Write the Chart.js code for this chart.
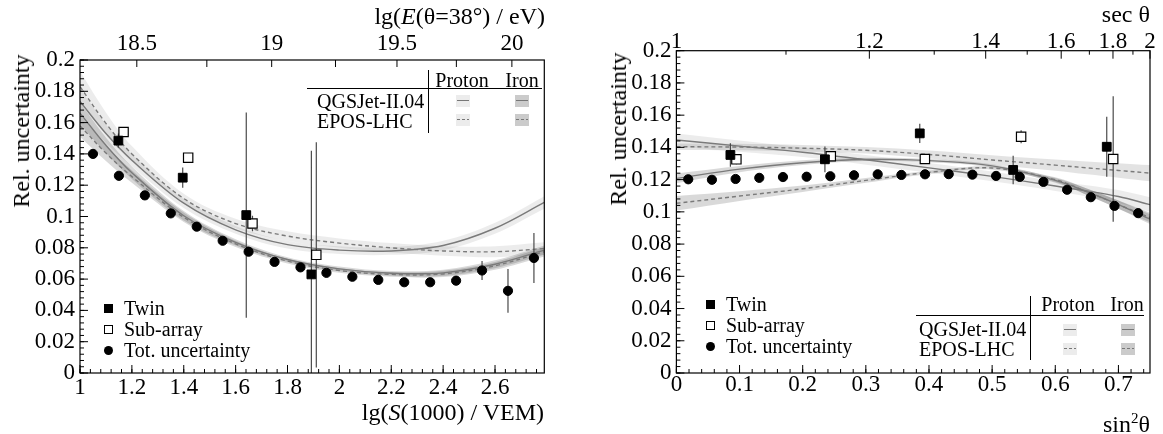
<!DOCTYPE html>
<html>
<head>
<meta charset="utf-8">
<title>Rel. uncertainty</title>
<script src="https://cdn.jsdelivr.net/npm/chart.js@4.4.1/dist/chart.umd.min.js"></script>
<style>
  html, body { margin: 0; padding: 0; background: #fff; }
  body { position: relative; width: 1163px; height: 434px; overflow: hidden;
         font-family: "Liberation Serif", "DejaVu Serif", serif; color: #000; }
  canvas { position: absolute; top: 0; }
  #cLeft { left: 0; }
  #cRight { left: 580px; }
  .t { position: absolute; white-space: nowrap; line-height: 1; }
  .ax { font-size: 24px; }
  .lg { font-size: 20px; }
  .ctr { transform: translateX(-50%); }
  .ytitle { transform: translate(-50%, -50%) rotate(-90deg); }
  .hl { position: absolute; height: 0; border-top: 1px solid #000; }
  .vl { position: absolute; width: 0; border-left: 1px solid #000; }
  .box { position: absolute; width: 14px; height: 12px; }
  .box.p { background: #ececec; }
  .box.fe { background: #cbcbcb; }
  .box i { position: absolute; left: 1px; right: 1px; top: 5px; height: 1.5px; background: #777; }
  .box.dash i { background: repeating-linear-gradient(90deg, #777 0 3px, transparent 3px 5px); }
  .mk { position: absolute; width: 9px; height: 9px; box-sizing: border-box; }
  .mk.sq { background: #000; }
  .mk.osq { border: 1px solid #000; background: #fff; }
  .mk.dot { background: #000; border-radius: 50%; }
</style>
</head>
<body>
<canvas id="cLeft" width="580" height="434" style="width:580px;height:434px"></canvas>
<canvas id="cRight" width="583" height="434" style="width:583px;height:434px"></canvas>

<!-- left panel texts -->
<div class="t ax" style="right:618px;top:4px">lg(<i>E</i>(θ=38°) / eV)</div>
<div class="t ax" style="right:619px;top:400px">lg(<i>S</i>(1000) / VEM)</div>
<div class="t ax ytitle" style="left:21px;top:131px">Rel. uncertainty</div>

<div class="mk sq" style="left:104px;top:304px"></div>
<div class="mk osq" style="left:104px;top:324.5px"></div>
<div class="mk dot" style="left:104px;top:345.5px"></div>
<div class="t lg" style="left:124px;top:298px">Twin</div>
<div class="t lg" style="left:124px;top:319px">Sub-array</div>
<div class="t lg" style="left:124px;top:340px">Tot. uncertainty</div>

<div class="hl" style="left:307px;top:88px;width:235px"></div>
<div class="vl" style="left:428px;top:70px;height:63px"></div>
<div class="t lg ctr" style="left:462px;top:70px">Proton</div>
<div class="t lg ctr" style="left:522px;top:70px">Iron</div>
<div class="t lg" style="left:317px;top:91px">QGSJet-II.04</div>
<div class="t lg" style="left:317px;top:110.5px">EPOS-LHC</div>
<div class="box p" style="left:455.5px;top:94.5px"><i></i></div>
<div class="box p dash" style="left:455.5px;top:113.5px"><i></i></div>
<div class="box fe" style="left:514.5px;top:94.5px"><i></i></div>
<div class="box fe dash" style="left:514.5px;top:113.5px"><i></i></div>

<!-- right panel texts -->
<div class="t ax" style="right:13px;top:2px">sec θ</div>
<div class="t ax" style="right:13px;top:411px">sin<span style="font-size:15px;vertical-align:9px">2</span>θ</div>
<div class="t ax ytitle" style="left:618px;top:129px">Rel. uncertainty</div>

<div class="mk sq" style="left:705.5px;top:300px"></div>
<div class="mk osq" style="left:705.5px;top:321px"></div>
<div class="mk dot" style="left:705.5px;top:342px"></div>
<div class="t lg" style="left:726px;top:294px">Twin</div>
<div class="t lg" style="left:726px;top:315px">Sub-array</div>
<div class="t lg" style="left:726px;top:336px">Tot. uncertainty</div>

<div class="hl" style="left:916px;top:315px;width:228px"></div>
<div class="vl" style="left:1030px;top:296px;height:64px"></div>
<div class="t lg ctr" style="left:1068px;top:294px">Proton</div>
<div class="t lg ctr" style="left:1127px;top:294px">Iron</div>
<div class="t lg" style="left:919px;top:318.5px">QGSJet-II.04</div>
<div class="t lg" style="left:919px;top:338.5px">EPOS-LHC</div>
<div class="box p" style="left:1062.5px;top:323.5px"><i></i></div>
<div class="box p dash" style="left:1062.5px;top:342.5px"><i></i></div>
<div class="box fe" style="left:1121px;top:323.5px"><i></i></div>
<div class="box fe dash" style="left:1121px;top:342.5px"><i></i></div>

<script>
// ---------- left panel: lg(S(1000)/VEM) ----------
const sGrid      = [1, 1.1, 1.2, 1.4, 1.6, 1.8, 2.0, 2.2, 2.4, 2.6, 2.79];
const sQgsP      = [0.1735, 0.153, 0.136, 0.1085, 0.0915, 0.082, 0.0785, 0.078, 0.0815, 0.0925, 0.109];
const sQgsPErr   = [0.008, 0.006, 0.004, 0.003, 0.0025, 0.0025, 0.0025, 0.0025, 0.003, 0.0035, 0.004];
const sEposP     = [0.183, 0.1595, 0.140, 0.1115, 0.0955, 0.0875, 0.083, 0.080, 0.078, 0.0775, 0.0795];
const sEposPErr  = [0.010, 0.007, 0.005, 0.003, 0.003, 0.003, 0.003, 0.003, 0.003, 0.0035, 0.004];
const sQgsFe     = [0.166, 0.1455, 0.128, 0.1005, 0.0835, 0.0725, 0.0665, 0.0637, 0.064, 0.0695, 0.0785];
const sQgsFeErr  = [0.007, 0.005, 0.004, 0.003, 0.002, 0.0015, 0.0015, 0.0015, 0.002, 0.0025, 0.003];
const sEposFe    = [0.158, 0.1405, 0.1255, 0.0995, 0.0825, 0.0715, 0.0655, 0.063, 0.0633, 0.0685, 0.0775];
const sEposFeErr = [0.007, 0.005, 0.004, 0.003, 0.002, 0.0015, 0.0015, 0.0015, 0.002, 0.0025, 0.003];

const sTotX   = [1.05, 1.15, 1.25, 1.35, 1.45, 1.55, 1.65, 1.75, 1.85, 1.95, 2.05, 2.15, 2.25, 2.35, 2.45, 2.55, 2.65, 2.75];
const sTot    = [0.140, 0.126, 0.1135, 0.102, 0.0935, 0.0845, 0.0775, 0.071, 0.0675, 0.064, 0.0615, 0.0595, 0.058, 0.058, 0.059, 0.0655, 0.0525, 0.0735];
const sTotErr = [0.001, 0.001, 0.001, 0.001, 0.001, 0.001, 0.001, 0.001, 0.001, 0.001, 0.001, 0.001, 0.0015, 0.0015, 0.003, 0.006, 0.014, 0.016];
const sTwinX   = [1.148, 1.396, 1.641, 1.892];
const sTwin    = [0.1485, 0.1248, 0.1009, 0.063];
const sTwinErr = [0.0045, 0.0065, 0.0656, 0.079];
const sSubX    = [1.168, 1.417, 1.665, 1.911];
const sSub     = [0.154, 0.1376, 0.0955, 0.0755];
const sSubErr  = [0.003, 0.003, 0.005, 0.072];

const lgSTicks     = [1, 1.2, 1.4, 1.6, 1.8, 2, 2.2, 2.4, 2.6];
const lgETickLabel = ['18.5', '19', '19.5', '20'];
const lgETickAt    = [1.219, 1.739, 2.222, 2.665];   // lg(S) position of each lg(E) label
const lgEMinorAt   = [1.489, 1.985, 2.451];

// ---------- right panel: sin^2(theta) ----------
const tGrid      = [0, 0.1, 0.2, 0.3, 0.4, 0.5, 0.6, 0.65, 0.7, 0.75];
const tQgsP      = [0.1446, 0.1408, 0.137, 0.1323, 0.1273, 0.122, 0.116, 0.113, 0.1095, 0.1045];
const tQgsPErr   = [0.004, 0.0035, 0.003, 0.003, 0.003, 0.003, 0.003, 0.0035, 0.004, 0.0045];
const tEposP     = [0.1404, 0.1402, 0.1395, 0.1382, 0.1356, 0.1322, 0.129, 0.1273, 0.1257, 0.124];
const tEposPErr  = [0.002, 0.002, 0.002, 0.002, 0.0025, 0.003, 0.0035, 0.004, 0.0045, 0.005];
const tQgsFe     = [0.1208, 0.1265, 0.1305, 0.1325, 0.1318, 0.1285, 0.1195, 0.1125, 0.1045, 0.0955];
const tQgsFeErr  = [0.003, 0.002, 0.0015, 0.001, 0.001, 0.001, 0.0015, 0.002, 0.0025, 0.003];
const tEposFe    = [0.1053, 0.1098, 0.1143, 0.1195, 0.1245, 0.1272, 0.12, 0.1125, 0.1045, 0.0965];
const tEposFeErr = [0.0045, 0.003, 0.002, 0.0015, 0.001, 0.001, 0.0015, 0.002, 0.0025, 0.003];

const tTotX   = [0.01875, 0.05625, 0.09375, 0.13125, 0.16875, 0.20625, 0.24375, 0.28125, 0.31875, 0.35625,
                 0.39375, 0.43125, 0.46875, 0.50625, 0.54375, 0.58125, 0.61875, 0.65625, 0.69375, 0.73125];
const tTot    = [0.1202, 0.1199, 0.1204, 0.1211, 0.1216, 0.1218, 0.1221, 0.1227, 0.1233, 0.1229,
                 0.1233, 0.1234, 0.1231, 0.1223, 0.1217, 0.1186, 0.1137, 0.1091, 0.1037, 0.0992];
const tTotErr = [0.001, 0.001, 0.001, 0.001, 0.001, 0.001, 0.001, 0.001, 0.001, 0.001,
                 0.001, 0.001, 0.001, 0.001, 0.001, 0.001, 0.001, 0.001, 0.0015, 0.0015];
const tTwinX   = [0.0855, 0.2352, 0.3854, 0.5333, 0.6815];
const tTwin    = [0.1353, 0.1326, 0.1487, 0.126, 0.1404];
const tTwinErr = [0.0073, 0.008, 0.006, 0.0088, 0.0186];
const tSubX    = [0.095, 0.2445, 0.3935, 0.5459, 0.6917];
const tSub     = [0.1326, 0.1345, 0.1328, 0.1466, 0.1328];
const tSubErr  = [0.003, 0.003, 0.003, 0.004, 0.039];

const sin2Ticks = [0, 0.1, 0.2, 0.3, 0.4, 0.5, 0.6, 0.7];
const secMajor  = [1, 1.2, 1.4, 1.6, 1.8, 2];
const secMinor  = [1.1, 1.3, 1.5, 1.7, 1.9];

const yTicks = [0, 0.02, 0.04, 0.06, 0.08, 0.1, 0.12, 0.14, 0.16, 0.18, 0.2];

// ---------- helpers ----------
const LINE  = '#7a7a7a';
const LIGHT = 'rgba(0,0,0,0.075)';
const MID   = 'rgba(0,0,0,0.11)';
const DARK  = 'rgba(0,0,0,0.15)';
const NONE  = 'rgba(0,0,0,0)';
const tickFont = { family: '"Liberation Serif", "DejaVu Serif", serif', size: 23, lineHeight: 1 };

const toSin2 = s => 1 - 1 / (s * s);
function steps(from, to, step) {
  const out = [];
  for (let v = from; v <= to + 1e-9; v += step) out.push(+v.toFixed(4));
  return out;
}
const fmt = v => String(+(+v).toFixed(3));
const pts = (xs, ys) => xs.map((x, i) => ({ x, y: ys[i] }));
const shifted = (xs, ys, es, k) => xs.map((x, i) => ({ x, y: ys[i] + k * es[i] }));
function errBars(xs, ys, es) {
  const out = [];
  xs.forEach((x, i) => out.push({ x, y: ys[i] - es[i] }, { x, y: ys[i] + es[i] }, { x, y: null }));
  return out;
}

function panelDatasets(p) {
  const ds = [];
  p.models.forEach(m => {
    const up = ds.length;
    ds.push({ data: shifted(p.grid, m.val, m.err, 1), borderColor: NONE, borderWidth: 0,
              pointRadius: 0, tension: 0.35, fill: false, order: 5 });
    ds.push({ data: shifted(p.grid, m.val, m.err, -1), borderColor: NONE, borderWidth: 0,
              pointRadius: 0, tension: 0.35, fill: { target: up }, backgroundColor: m.band, order: 5 });
  });
  p.models.forEach(m => {
    ds.push({ data: pts(p.grid, m.val), borderColor: LINE, borderWidth: 1.4,
              borderDash: m.dash ? [4, 3] : [], pointRadius: 0, tension: 0.35, fill: false, order: 4 });
  });
  p.groups.forEach(g => {
    ds.push({ data: errBars(g.x, g.y, g.e), borderColor: '#4a4a4a', borderWidth: 1.2,
              pointRadius: 0, fill: false, spanGaps: false, order: 3 });
  });
  p.groups.forEach(g => {
    ds.push({ data: pts(g.x, g.y), showLine: false, pointStyle: g.style, pointRadius: g.r,
              pointBackgroundColor: g.fill, pointBorderColor: '#000', pointBorderWidth: g.bw, order: 1 });
  });
  return ds;
}

function ticksAndFrame(marks) {
  return {
    id: 'ticksAndFrame',
    afterDatasetsDraw(chart) {
      const { ctx, chartArea: a } = chart;
      ctx.save();
      ctx.strokeStyle = '#000';
      ctx.lineWidth = 1;
      marks.forEach(m => {
        const s = chart.scales[m.axis];
        ctx.beginPath();
        m.values.forEach(v => {
          const p = s.getPixelForValue(v);
          if (m.axis === 'y') { ctx.moveTo(a.left, p); ctx.lineTo(a.left + m.len, p); }
          else if (m.axis === 'x') { ctx.moveTo(p, a.bottom); ctx.lineTo(p, a.bottom - m.len); }
          else { ctx.moveTo(p, a.top); ctx.lineTo(p, a.top + m.len); }
        });
        ctx.stroke();
      });
      ctx.lineWidth = 1.2;
      ctx.strokeRect(a.left, a.top, a.right - a.left, a.bottom - a.top);
      ctx.restore();
    }
  };
}

function makeScale(extra, fit) {
  return Object.assign({
    type: 'linear',
    grid: { display: false, drawTicks: false },
    border: { display: false },
    afterFit: s => { fit(s); s.paddingLeft = 0; s.paddingRight = 0; s.paddingTop = 0; s.paddingBottom = 0; }
  }, extra);
}

function makeChart(id, p) {
  return new Chart(document.getElementById(id), {
    type: 'line',
    data: { datasets: panelDatasets(p) },
    options: {
      responsive: false,
      animation: false,
      events: [],
      layout: { padding: { left: 0, top: 0, bottom: 0, right: p.padRight } },
      plugins: { legend: { display: false }, tooltip: { enabled: false } },
      scales: {
        x: makeScale({
          position: 'bottom', min: p.xMin, max: p.xMax,
          ticks: { font: tickFont, color: '#000', maxRotation: 0, autoSkip: false, padding: p.padBottomLbl, callback: v => fmt(v) },
          afterBuildTicks: s => { s.ticks = p.xTicks.map(v => ({ value: v })); }
        }, s => { s.height = p.bottomH; }),
        x2: makeScale({
          axis: 'x', position: 'top', min: p.xMin, max: p.xMax,
          ticks: { font: tickFont, color: '#000', maxRotation: 0, autoSkip: false, padding: p.padTopLbl, callback: (v, i) => p.topLabels[i] },
          afterBuildTicks: s => { s.ticks = p.topAt.map(v => ({ value: v })); }
        }, s => { s.height = p.topH; }),
        y: makeScale({
          position: 'left', min: 0, max: 0.2,
          ticks: { font: tickFont, color: '#000', padding: 5, callback: v => fmt(v) },
          afterBuildTicks: s => { s.ticks = yTicks.map(v => ({ value: v })); }
        }, s => { s.width = p.leftW; })
      }
    },
    plugins: [ticksAndFrame(p.marks)]
  });
}

const yMarks = [
  { axis: 'y', values: yTicks, len: 8 },
  { axis: 'y', values: steps(0, 0.2, 0.004), len: 4 }
];

makeChart('cLeft', {
  xMin: 1, xMax: 2.79, xTicks: lgSTicks,
  topAt: lgETickAt, topLabels: lgETickLabel,
  leftW: 80, topH: 60, bottomH: 61, padRight: 35.7,
  padBottomLbl: 3, padTopLbl: 5,
  grid: sGrid,
  models: [
    { val: sQgsP,  err: sQgsPErr,  band: LIGHT, dash: false },
    { val: sEposP, err: sEposPErr, band: LIGHT, dash: true },
    { val: sQgsFe, err: sQgsFeErr, band: DARK,  dash: false },
    { val: sEposFe, err: sEposFeErr, band: DARK, dash: true }
  ],
  groups: [
    { x: sTotX,  y: sTot,  e: sTotErr,  style: 'circle', r: 4.6, fill: '#000', bw: 1 },
    { x: sTwinX, y: sTwin, e: sTwinErr, style: 'rect',   r: 6.2, fill: '#000', bw: 1 },
    { x: sSubX,  y: sSub,  e: sSubErr,  style: 'rect',   r: 6.6, fill: '#fff', bw: 1.2 }
  ],
  marks: yMarks.concat([
    { axis: 'x', values: lgSTicks, len: 8 },
    { axis: 'x', values: steps(1, 2.79, 0.04), len: 4 },
    { axis: 'x2', values: lgETickAt.concat(lgEMinorAt), len: 7 }
  ])
});

makeChart('cRight', {
  xMin: 0, xMax: 0.75, xTicks: sin2Ticks,
  topAt: secMajor.map(toSin2), topLabels: secMajor.map(String),
  leftW: 96.4, topH: 50.7, bottomH: 61, padRight: 13,
  padBottomLbl: 0.5, padTopLbl: -3,
  grid: tGrid,
  models: [
    { val: tQgsP,  err: tQgsPErr,  band: LIGHT, dash: false },
    { val: tEposP, err: tEposPErr, band: MID,   dash: true },
    { val: tQgsFe, err: tQgsFeErr, band: DARK,  dash: false },
    { val: tEposFe, err: tEposFeErr, band: DARK, dash: true }
  ],
  groups: [
    { x: tTotX,  y: tTot,  e: tTotErr,  style: 'circle', r: 4.6, fill: '#000', bw: 1 },
    { x: tTwinX, y: tTwin, e: tTwinErr, style: 'rect',   r: 6.2, fill: '#000', bw: 1 },
    { x: tSubX,  y: tSub,  e: tSubErr,  style: 'rect',   r: 6.6, fill: '#fff', bw: 1.2 }
  ],
  marks: yMarks.concat([
    { axis: 'x', values: sin2Ticks, len: 8 },
    { axis: 'x', values: steps(0, 0.75, 0.02), len: 4 },
    { axis: 'x2', values: secMajor.map(toSin2), len: 8 },
    { axis: 'x2', values: secMinor.map(toSin2), len: 4 }
  ])
});
</script>
</body>
</html>
